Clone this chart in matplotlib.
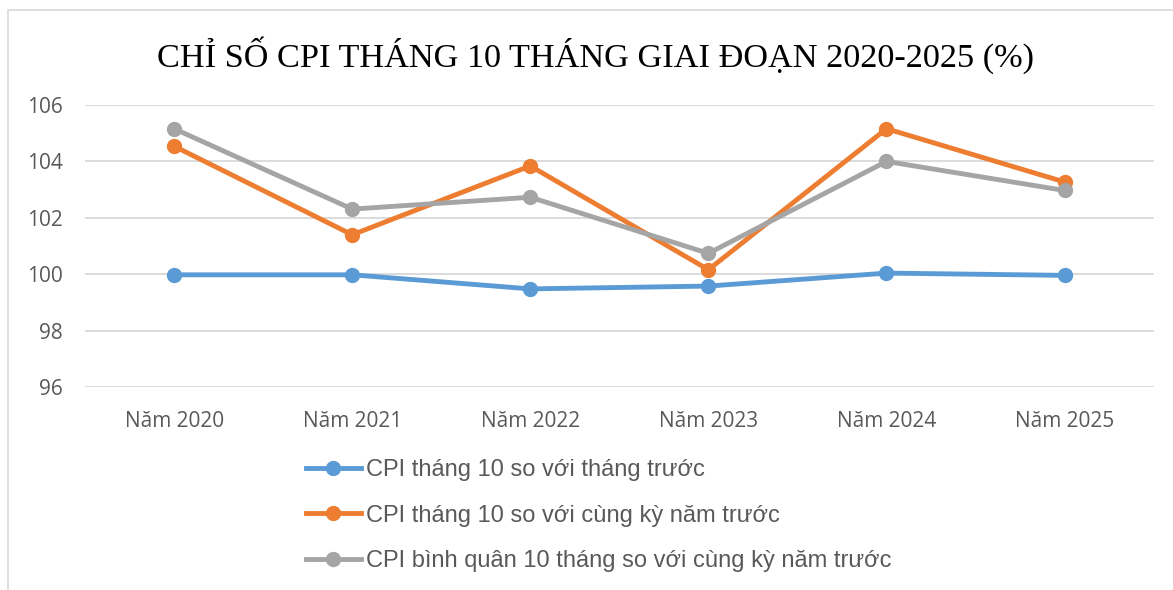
import matplotlib
matplotlib.use('Agg')
import matplotlib.pyplot as plt
from matplotlib.patches import Rectangle

# data
years = ['Năm 2020', 'Năm 2021', 'Năm 2022', 'Năm 2023', 'Năm 2024', 'Năm 2025']
cpi_mom = [99.98, 99.98, 99.48, 99.58, 100.04, 99.96]
cpi_yoy = [104.54, 101.40, 103.84, 100.16, 105.16, 103.27]
cpi_avg = [105.16, 102.31, 102.73, 100.74, 104.00, 102.97]
labels = ['CPI tháng 10 so với tháng trước',
          'CPI tháng 10 so với cùng kỳ năm trước',
          'CPI bình quân 10 tháng so với cùng kỳ năm trước']
colors = ['#5B9BD5', '#ED7D31', '#A5A5A5']

fig = plt.figure(figsize=(11.73, 5.9), dpi=100)
ax = fig.add_axes([0.0725, 0.344, 0.911, 0.478])

# border of the chart area
fig.patches.append(Rectangle((8 / 1173, -0.1), 1.2, 1.1 - 10 / 590,
                             transform=fig.transFigure, fill=False,
                             edgecolor='#D9D9D9', lw=1.2))

x = list(range(len(years)))
handles = []
for vals, c in zip([cpi_mom, cpi_yoy, cpi_avg], colors):
    h, = ax.plot(x, vals, color=c, lw=3.5, marker='o', ms=10, zorder=3)
    handles.append(h)

ax.set_xlim(-0.5, 5.5)
ax.set_ylim(96, 106)
ax.set_yticks([96, 98, 100, 102, 104, 106])
ax.set_xticks(x)
ax.set_xticklabels(years)
ax.yaxis.grid(True, color='#D9D9D9', lw=1.3)
ax.set_axisbelow(True)
for s in ax.spines.values():
    s.set_visible(False)
ax.tick_params(length=0, labelcolor='#595959')
ax.tick_params(axis='x', pad=17)
ax.tick_params(axis='y', pad=16)
for t in ax.get_xticklabels() + ax.get_yticklabels():
    t.set_family(['Open Sans', 'DejaVu Sans'])
    t.set_fontsize(15)

fig.text(0.508, 0.907, 'CHỈ SỐ CPI THÁNG 10 THÁNG GIAI ĐOẠN 2020-2025 (%)',
         ha='center', va='center', fontsize=24.7,
         family=['Liberation Serif', 'DejaVu Serif'], color='black')

leg = fig.legend(handles, labels, loc='upper left',
                 bbox_to_anchor=(0.2424, 0.258), frameon=False,
                 labelspacing=1.0, handlelength=2.33, handletextpad=0.21,
                 prop={'family': ['Liberation Sans', 'DejaVu Sans'], 'size': 17})
for t in leg.get_texts():
    t.set_color('#595959')

fig.savefig('out.png', dpi=100)
